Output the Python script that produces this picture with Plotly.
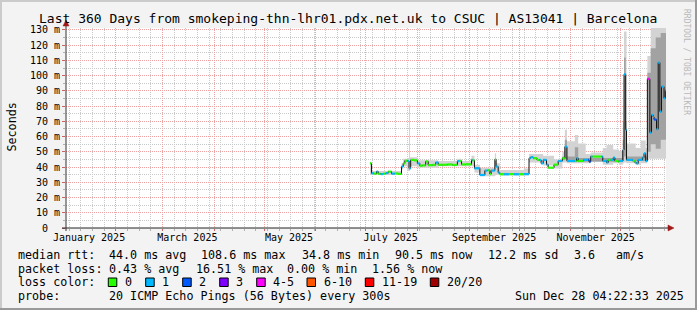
import pandas as pd
import plotly.graph_objects as go

# ---------------- data ----------------
start_time = "2025-01-02 04:22"
end_time = "2025-12-28 04:22"

dates = [
    "2025-07-03 14:00", "2025-07-04 12:00", "2025-07-06 00:00", "2025-07-07 12:00", "2025-07-08 12:00",
    "2025-07-10 00:00", "2025-07-11 12:00", "2025-07-13 00:00", "2025-07-14 12:00", "2025-07-16 12:00",
    "2025-07-18 12:00", "2025-07-20 12:00", "2025-07-22 12:00", "2025-07-23 12:00", "2025-07-24 12:00",
    "2025-07-26 00:00", "2025-07-27 00:00", "2025-07-28 00:00", "2025-07-30 00:00", "2025-08-01 00:00",
    "2025-08-02 12:00", "2025-08-04 00:00", "2025-08-06 00:00", "2025-08-07 12:00", "2025-08-10 00:00",
    "2025-08-12 00:00", "2025-08-13 12:00", "2025-08-16 00:00", "2025-08-19 00:00", "2025-08-22 00:00",
    "2025-08-25 00:00", "2025-08-26 00:00", "2025-08-27 12:00", "2025-08-30 00:00", "2025-09-02 12:00",
    "2025-09-03 00:00", "2025-09-04 06:00", "2025-09-07 12:00", "2025-09-10 12:00", "2025-09-12 00:00",
    "2025-09-13 12:00", "2025-09-14 06:00", "2025-09-16 12:00", "2025-09-17 06:00", "2025-09-18 12:00",
    "2025-09-19 12:00", "2025-09-22 00:00", "2025-09-25 00:00", "2025-09-28 00:00", "2025-10-01 00:00",
    "2025-10-04 00:00", "2025-10-07 00:00", "2025-10-08 00:00", "2025-10-09 12:00", "2025-10-11 18:00",
    "2025-10-13 00:00", "2025-10-14 06:00", "2025-10-15 12:00", "2025-10-17 12:00", "2025-10-18 12:00",
    "2025-10-22 00:00", "2025-10-24 12:00", "2025-10-27 00:00", "2025-10-28 12:00", "2025-10-29 18:00",
    "2025-11-03 12:00", "2025-11-04 12:00", "2025-11-05 12:00", "2025-11-08 12:00", "2025-11-11 12:00",
    "2025-11-12 00:00", "2025-11-13 00:00", "2025-11-14 00:00", "2025-11-19 12:00", "2025-11-20 06:00",
    "2025-11-22 12:00", "2025-11-23 12:00", "2025-11-25 00:00", "2025-11-26 12:00", "2025-11-27 12:00",
    "2025-11-29 12:00", "2025-11-30 00:00", "2025-12-02 06:00", "2025-12-03 00:00", "2025-12-04 00:00",
    "2025-12-04 12:00", "2025-12-08 06:00", "2025-12-09 12:00", "2025-12-10 12:00", "2025-12-11 12:00",
    "2025-12-14 00:00", "2025-12-15 00:00", "2025-12-16 00:00", "2025-12-17 00:00", "2025-12-18 12:00",
    "2025-12-19 12:00", "2025-12-20 12:00", "2025-12-21 00:00", "2025-12-22 12:00", "2025-12-23 12:00",
    "2025-12-24 12:00", "2025-12-25 12:00", "2025-12-27 00:00", "2025-12-27 18:00",
]
median_ms = [
    42.4, 35.9, 35.7, 37.0, 35.6,
    35.4, 35.7, 36.0, 37.0, 35.7,
    35.8, 35.5, 40.3, 42.4, 44.2,
    44.0, 39.2, 44.7, 44.4, 42.4,
    40.9, 41.1, 43.7, 41.3, 41.4,
    43.0, 41.5, 41.5, 41.7, 41.4,
    43.9, 44.0, 41.7, 41.8, 44.7,
    44.4, 39.2, 34.8, 37.7, 37.9,
    35.4, 37.7, 45.0, 40.3, 36.4,
    35.3, 35.3, 35.4, 35.3, 35.3,
    35.4, 45.8, 46.5, 45.8, 44.7,
    44.7, 42.4, 44.7, 41.6, 39.6,
    41.6, 44.0, 45.8, 53.4, 44.0,
    44.0, 45.8, 44.0, 44.7, 44.7,
    43.5, 46.9, 46.9, 46.9, 44.0,
    43.0, 44.7, 44.7, 46.2, 44.0,
    43.5, 44.0, 51.2, 100.9, 64.4,
    44.7, 44.0, 43.0, 42.4, 44.7,
    46.2, 49.0, 44.0, 97.9, 62.6,
    74.2, 72.9, 71.2, 64.9, 108.6,
    76.4, 92.8, 85.1, 90.5,
]
loss_bucket = [
    0, 1, 0, 1, 0,
    1, 0, 1, 0, 1,
    0, 0, 1, 0, 0,
    1, 1, 0, 0, 1,
    0, 0, 0, 0, 0,
    1, 0, 0, 0, 0,
    1, 0, 0, 0, 1,
    0, 1, 1, 1, 0,
    0, 1, 0, 1, 1,
    0, 1, 0, 1, 0,
    1, 1, 1, 0, 0,
    1, 1, 1, 1, 0,
    0, 1, 0, 1, 1,
    0, 1, 0, 1, 2,
    2, 1, 0, 1, 1,
    1, 0, 1, 1, 0,
    0, 1, 1, 1, 1,
    1, 0, 1, 1, 1,
    1, 1, 1, 4, 1,
    1, 1, 2, 1, 1,
    1, 1, 1, 1,
]

smoke_dates = [
    "2025-07-03 14:00", "2025-07-04 12:00", "2025-07-13 00:00", "2025-07-22 12:00", "2025-07-23 12:00",
    "2025-07-26 00:00", "2025-07-27 00:00", "2025-07-27 14:00", "2025-08-01 00:00", "2025-08-13 12:00",
    "2025-08-25 00:00", "2025-08-27 12:00", "2025-09-02 12:00", "2025-09-04 06:00", "2025-09-07 12:00",
    "2025-09-16 12:00", "2025-09-17 06:00", "2025-09-19 12:00", "2025-10-04 00:00", "2025-10-07 00:00",
    "2025-10-15 12:00", "2025-10-22 00:00", "2025-10-27 00:00", "2025-10-28 12:00", "2025-10-29 18:00",
    "2025-11-03 12:00", "2025-11-05 12:00", "2025-11-10 00:00", "2025-11-13 00:00", "2025-11-20 06:00",
    "2025-11-22 12:00", "2025-11-26 12:00", "2025-11-30 00:00", "2025-12-02 06:00", "2025-12-03 00:00",
    "2025-12-04 12:00", "2025-12-10 00:00", "2025-12-13 00:00", "2025-12-16 00:00", "2025-12-17 00:00",
    "2025-12-19 00:00",
]
smoke_lo = [
    35.0, 34.8, 34.8, 38.5, 40.5,
    37.5, 37.5, 40.5, 39.5, 40.5,
    40.5, 40.5, 40.5, 36.5, 34.0,
    34.5, 35.0, 34.5, 34.5, 43.0,
    41.0, 39.0, 43.0, 43.0, 42.5,
    42.5, 42.5, 42.5, 44.5, 41.5,
    41.5, 42.5, 41.5, 42.5, 43.0,
    42.5, 41.5, 42.5, 42.5, 45.5,
    45.5,
]
smoke_hi = [
    43.5, 37.5, 37.5, 42.5, 45.5,
    46.0, 81.0, 46.5, 44.5, 44.0,
    45.5, 44.0, 47.5, 41.5, 39.5,
    49.0, 42.5, 38.0, 39.0, 48.5,
    47.5, 45.0, 50.0, 64.5, 57.0,
    61.0, 55.5, 48.5, 49.5, 52.5,
    54.5, 51.5, 50.5, 70.0, 129.0,
    55.5, 52.5, 57.5, 52.5, 113.0,
    135.0,
]

core_dates = [
    "2025-10-27 00:00", "2025-10-28 12:00", "2025-10-29 18:00", "2025-11-03 12:00", "2025-11-05 12:00",
    "2025-12-02 06:00", "2025-12-03 00:00", "2025-12-04 00:00", "2025-12-04 12:00", "2025-12-17 00:00",
    "2025-12-19 00:00", "2025-12-22 00:00", "2025-12-25 00:00",
]
core_lo = [44.5, 45.0, 43.5, 43.5, 43.5, 44.0, 47.0, 45.0, 44.0, 50.0, 55.0, 52.0, 58.0]
core_hi = [47.0, 58.0, 47.0, 53.0, 46.0, 58.0, 112.0, 70.0, 47.0, 102.0, 118.0, 125.0, 128.0]

loss_labels = ["0", "1", "2", "3", "4-5", "6-10", "11-19", "20/20"]
loss_colors = ["#26ff00", "#00b8ff", "#0059ff", "#7e00ff", "#ff00ff", "#ff5500", "#ff0000", "#a10000"]

y_tick_vals = [0, 10, 20, 30, 40, 50, 60, 70, 80, 90, 100, 110, 120, 130]
y_tick_text = ["0\u00a0\u00a0", "10 m", "20 m", "30 m", "40 m", "50 m", "60 m", "70 m",
               "80 m", "90 m", "100 m", "110 m", "120 m", "130 m"]
month_label_dates = ["2025-01-16", "2025-03-16", "2025-05-16", "2025-07-16", "2025-09-16", "2025-11-16"]
month_labels = ["January 2025", "March 2025", "May 2025", "July 2025", "September 2025", "November 2025"]

title_text = "Last 360 Days from smokeping-thn-lhr01.pdx.net.uk to CSUC | AS13041 | Barcelona"
rtt_head = "median rtt:"
rtt_stats = ["44.0 ms avg", "108.6 ms max", "34.8 ms min", "90.5 ms now", "12.2 ms sd", "3.6", "am/s"]
loss_head = "packet loss:"
loss_stats = ["0.43 % avg", "16.51 % max", "0.00 % min", "1.56 % now"]
color_head = "loss color:"
probe_head = "probe:"
probe_text = "20 ICMP Echo Pings (56 Bytes) every 300s"
stamp_text = "Sun Dec 28 04:22:33 2025"

# ---------------- layout helpers (pixel -> paper) ----------------
W, H = 697, 310
PL, PR, PT, PB = 66, 666, 28, 228


def px(x):
    return (x - PL) / (PR - PL)


def py(y):
    return (PB - y) / (PB - PT)


MONO = "DejaVu Sans Mono"
MAJOR = "#efa3a3"
MINOR = "#c9c9c9"

fig = go.Figure()

t_end = pd.Timestamp(end_time)

# smoke (outer)
sd = list(pd.to_datetime(smoke_dates)) + [t_end]
fig.add_trace(go.Scatter(x=sd, y=smoke_lo + [smoke_lo[-1]], mode="lines", line=dict(width=0, shape="hv"),
                         hoverinfo="skip", showlegend=False))
fig.add_trace(go.Scatter(x=sd, y=smoke_hi + [smoke_hi[-1]], mode="lines", line=dict(width=0, shape="hv"),
                         fill="tonexty", fillcolor="#d3d3d3", hoverinfo="skip", showlegend=False))
# smoke (core)
cd = list(pd.to_datetime(core_dates)) + [t_end]
fig.add_trace(go.Scatter(x=cd, y=core_lo + [core_lo[-1]], mode="lines", line=dict(width=0, shape="hv"),
                         hoverinfo="skip", showlegend=False))
fig.add_trace(go.Scatter(x=cd, y=core_hi + [core_hi[-1]], mode="lines", line=dict(width=0, shape="hv"),
                         fill="tonexty", fillcolor="#a2a2a2", hoverinfo="skip", showlegend=False))

# median black line
t_ext = list(pd.to_datetime(dates)) + [t_end]
fig.add_trace(go.Scatter(x=t_ext, y=median_ms + [median_ms[-1]], mode="lines",
                         line=dict(color="#111111", width=1, shape="hv"), hoverinfo="skip", showlegend=False))

# median coloured by loss
for b, col in enumerate(loss_colors):
    xs, ys = [], []
    for i, v in enumerate(median_ms):
        if loss_bucket[i] == b:
            xs += [t_ext[i], t_ext[i + 1], None]
            ys += [v, v, None]
    if xs:
        fig.add_trace(go.Scatter(x=xs, y=ys, mode="lines", line=dict(color=col, width=2.2),
                                 hoverinfo="skip", showlegend=False))

# dummy trace for label axis
fig.add_trace(go.Scatter(x=[start_time], y=[0], xaxis="x2", mode="markers",
                         marker=dict(size=1, opacity=0), hoverinfo="skip", showlegend=False))

fig.update_layout(
    width=W, height=H, autosize=False,
    margin=dict(l=PL, r=W - PR, t=PT, b=H - PB, pad=0),
    paper_bgcolor="#f3f3f3", plot_bgcolor="#ffffff",
    showlegend=False,
    font=dict(family=MONO, color="#000000"),
    xaxis=dict(
        type="date", range=[start_time, end_time], showticklabels=False,
        showgrid=True, gridcolor=MAJOR, griddash="1px,1px", gridwidth=1,
        dtick="M1", tick0="2025-01-01", ticks="outside", ticklen=2, tickcolor="#d06060",
        minor=dict(dtick=7 * 86400000, tick0="2025-01-04", showgrid=True, gridcolor=MINOR,
                   griddash="1px,1px", ticks="outside", ticklen=2, tickcolor="#b0b0b0"),
        zeroline=False, showline=False, fixedrange=True,
    ),
    xaxis2=dict(
        type="date", range=[start_time, end_time], overlaying="x", side="bottom", anchor="y",
        tickvals=month_label_dates, ticktext=month_labels, showgrid=False, ticks="",
        tickfont=dict(family=MONO, size=10, color="#000"), showline=False, zeroline=False,
        ticklabelstandoff=2,
    ),
    yaxis=dict(
        range=[0, 131.3], tickvals=y_tick_vals, ticktext=y_tick_text,
        showgrid=True, gridcolor=MAJOR, griddash="1px,1px",
        ticks="outside", ticklen=3, tickcolor="#d06060",
        minor=dict(dtick=5, showgrid=True, gridcolor=MINOR, griddash="1px,1px",
                   ticks="outside", ticklen=2, tickcolor="#b0b0b0"),
        tickfont=dict(family=MONO, size=10, color="#000"),
        zeroline=False, showline=False, fixedrange=True,
    ),
)

shapes = []
# frame shading
shapes.append(dict(type="rect", xref="paper", yref="paper", x0=px(0), x1=px(W), y0=py(0), y1=py(2),
                   fillcolor="#cbcbcb", line_width=0, layer="below"))
shapes.append(dict(type="rect", xref="paper", yref="paper", x0=px(0), x1=px(2), y0=py(0), y1=py(H),
                   fillcolor="#cbcbcb", line_width=0, layer="below"))
shapes.append(dict(type="rect", xref="paper", yref="paper", x0=px(0), x1=px(W), y0=py(H - 2), y1=py(H),
                   fillcolor="#999999", line_width=0, layer="below"))
shapes.append(dict(type="rect", xref="paper", yref="paper", x0=px(W - 2), x1=px(W), y0=py(0), y1=py(H),
                   fillcolor="#999999", line_width=0, layer="below"))
# axes
shapes.append(dict(type="line", xref="paper", yref="paper", x0=px(62), x1=px(670), y0=0, y1=0,
                   line=dict(color="#222222", width=1)))
shapes.append(dict(type="line", xref="paper", yref="paper", x0=0, x1=0, y0=py(231), y1=py(24),
                   line=dict(color="#333333", width=1)))
# arrows
shapes.append(dict(type="path", xref="paper", yref="paper",
                   path=f"M {px(63)} {py(26)} L {px(69)} {py(26)} L {px(66)} {py(20)} Z",
                   fillcolor="#a01818", line=dict(color="#a01818", width=0.5)))
shapes.append(dict(type="path", xref="paper", yref="paper",
                   path=f"M {px(668)} {py(225)} L {px(668)} {py(231)} L {px(674)} {py(228)} Z",
                   fillcolor="#a01818", line=dict(color="#a01818", width=0.5)))

ann = []


def text(x, y, s, size=11.7, anchor="left", color="#000", angle=0, yanchor="middle"):
    ann.append(dict(xref="paper", yref="paper", x=px(x), y=py(y), text=s, showarrow=False,
                    xanchor=anchor, yanchor=yanchor, textangle=angle,
                    font=dict(family=MONO, size=size, color=color)))


text(348, 18.8, title_text, size=13, anchor="center")
text(11, 127.5, "Seconds", size=11.7, anchor="center", angle=-90)
text(687, 62, "RRDTOOL / TOBI OETIKER", size=8, anchor="center", color="#b9b9b9", angle=90)

L1, L2, L3, L4 = 254.6, 268.6, 282.3, 296.3
text(15.5, L1, rtt_head)
for s, x in zip(rtt_stats, [106.8, 199.0, 299.5, 392.8, 486.2, 571.8, 613.5]):
    text(x, L1, s)
text(15.5, L2, loss_head)
for s, x in zip(loss_stats, [106.8, 193.5, 284.5, 370.5]):
    text(x, L2, s)
text(15.5, L3, color_head)
for lab, col, x in zip(loss_labels, loss_colors, [108.3, 145.7, 182.7, 219.7, 256.7, 307.0, 365.3, 430.3]):
    shapes.append(dict(type="rect", xref="paper", yref="paper", x0=px(x), x1=px(x + 8.5),
                       y0=py(286.5), y1=py(278), fillcolor=col, line=dict(color="#000", width=1)))
    text(x + 14.5, L3, lab)
text(15.5, L4, probe_head)
text(106.8, L4, probe_text)
text(512.8, L4, stamp_text)

fig.update_layout(shapes=shapes, annotations=ann)
fig.write_html("out.html")
